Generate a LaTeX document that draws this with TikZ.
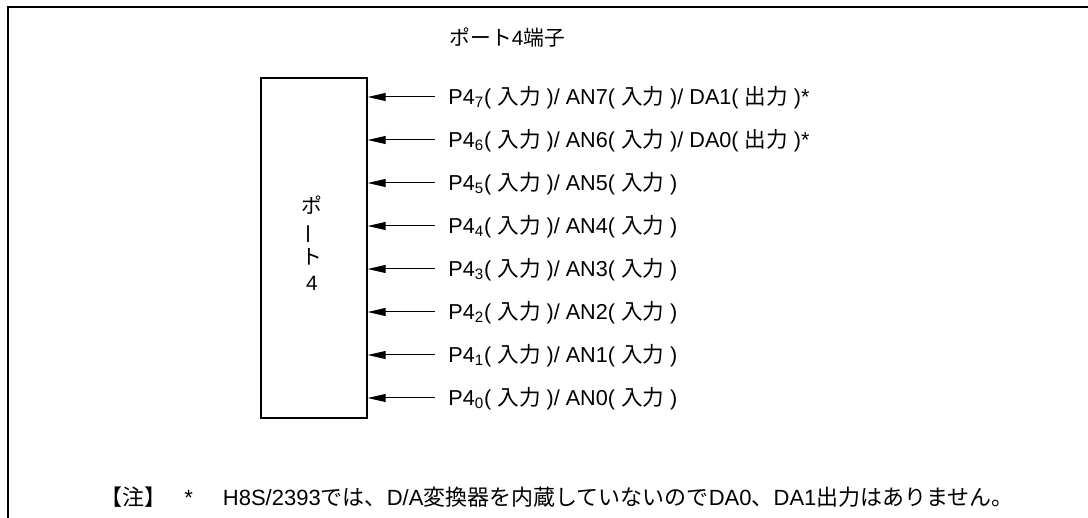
\documentclass[tikz,border=0pt]{standalone}
\usepackage{fontspec}
\setmainfont{Liberation Sans}
\newfontfamily\jpfont{Noto Sans CJK JP}
\usetikzlibrary{arrows.meta}
\usetikzlibrary{positioning}
\newcommand{\jp}[1]{{\jpfont #1}}
\newcommand{\nyu}{\jp{入力}}
\newcommand{\pinname}[1]{P4\textsubscript{#1}( \nyu{} )/ AN#1( \nyu{} )}

\begin{document}
\begin{tikzpicture}[x=0.5pt, y=-0.5pt, font=\fontsize{10.4}{12.8}\selectfont,
  arr/.style={line width=0.5pt, -{Triangle[length=9pt, width=4pt]}},
  pinlabel/.style={anchor=base west, inner sep=0pt}]
  \useasboundingbox (0,0) rectangle (1088,518);
  \draw[line width=1pt] (8,518) -- (8,7) -- (1088,7);

  \node[pinlabel] (title) at (449,46) {\jp{ポート}4\jp{端子}};
  \node[draw, line width=0.7pt, minimum width=53pt, minimum height=170pt] (port) at (314,248) {};
  \node[align=center] (portname) at (312,243) {\jp{ポ}\\\rotatebox[origin=c]{90}{\jp{ー}}\\\jp{ト}\\4};

  \foreach \k/\rest in {7/{/ DA1( \jp{出力} )*}, 6/{/ DA0( \jp{出力} )*}, 5/{}, 4/{}, 3/{}, 2/{}, 1/{}, 0/{}} {
    \node[pinlabel, font=\fontsize{10.8}{13}\selectfont] (p\k) at (448,{97+43*(7-\k)+7.5}) {\pinname{\k}\rest};
    \coordinate (a\k) at (435,{97+43*(7-\k)});
    \draw[arr] (a\k) -- (a\k -| port.east);
  }

  \node[pinlabel, font=\fontsize{11}{13}\selectfont] (note) at (100,505) {\jp{【注】}\hspace{9pt}*\hspace{15pt}H8S/2393\jp{では、}D/A\jp{変換器を内蔵していないので}DA0\jp{、}DA1\jp{出力はありません。}};
\end{tikzpicture}
\end{document}
